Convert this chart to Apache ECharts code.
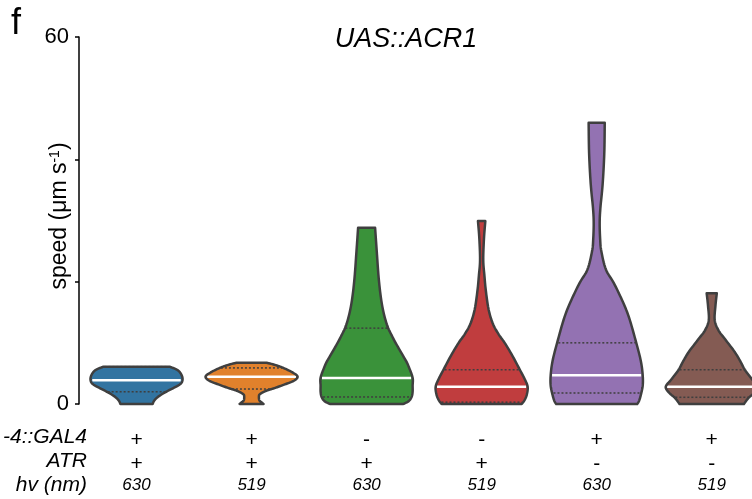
<!DOCTYPE html>
<html>
<head>
<meta charset="utf-8">
<script src="https://cdn.jsdelivr.net/npm/echarts@6/dist/echarts.min.js"></script>
<style>
html,body{margin:0;padding:0;background:#fff;}
#main{width:752px;height:499px;}
</style>
</head>
<body>
<div id="main"></div>
<script>
// ---------------- data ----------------
const categories = ['c1', 'c2', 'c3', 'c4', 'c5', 'c6'];
const rowGal4 = ['+', '+', '-', '-', '+', '+'];
const rowATR = ['+', '+', '+', '+', '-', '-'];
const rowWavelength = ['630', '519', '630', '519', '630', '519'];
const rowNames = ['-4::GAL4', 'ATR', 'hv (nm)'];
const yTicksShown = [0, 60];

// violin profiles (speed level, relative density width), top to bottom
const speed1 = [6.1, 5.6, 5.0, 4.2, 3.5, 3.0, 2.3, 1.6, 1.0, 0.5, 0];
const dens1  = [0.72, 0.88, 0.96, 1.0, 0.98, 0.9, 0.72, 0.55, 0.44, 0.38, 0.35];
const speed2 = [6.75, 6.3, 5.8, 5.2, 4.5, 3.8, 3.2, 2.6, 2.1, 1.6, 1.2, 0.6, 0.25, 0];
const dens2  = [0.33, 0.55, 0.72, 0.88, 1.0, 0.92, 0.72, 0.5, 0.3, 0.18, 0.16, 0.17, 0.22, 0.26];
const speed3 = [28.8, 25, 20, 16, 13, 11, 8.8, 7, 6, 4.3, 3, 2, 1.2, 0.5, 0];
const dens3  = [0.185, 0.22, 0.27, 0.34, 0.44, 0.56, 0.72, 0.86, 0.92, 1.0, 1.0, 1.0, 0.98, 0.92, 0.8];
const speed4 = [29.9, 27, 23.5, 21, 18.6, 15.5, 13.2, 11.5, 10, 8, 5.6, 4, 2.8, 1.5, 0.6, 0];
const dens4  = [0.08, 0.05, 0.035, 0.06, 0.09, 0.15, 0.24, 0.36, 0.5, 0.66, 0.83, 0.94, 1.0, 0.98, 0.93, 0.87];
const speed5 = [46, 41, 36, 32, 29.6, 27, 25, 22, 19.8, 17, 14.2, 10, 7, 4.7, 3, 1.5, 0.5, 0];
const dens5  = [0.175, 0.165, 0.13, 0.08, 0.065, 0.075, 0.1, 0.2, 0.37, 0.55, 0.7, 0.86, 0.96, 1.0, 1.0, 0.96, 0.92, 0.88];
const speed6 = [18.1, 16, 13.7, 12, 10.5, 8.5, 7, 5.6, 4, 2.8, 1.8, 1, 0];
const dens6  = [0.11, 0.08, 0.065, 0.15, 0.3, 0.5, 0.62, 0.72, 0.88, 1.0, 0.92, 0.8, 0.7];

const medians = [3.9, 4.46, 4.25, 2.8, 4.7, 2.8];
const lowerQuartiles = [2.0, 2.45, 1.15, 0.3, 1.8, 1.1];
const upperQuartiles = [6.1, 5.9, 12.4, 5.6, 10.0, 5.6];

// ---------------- styling ----------------
const profiles = [[speed1, dens1], [speed2, dens2], [speed3, dens3], [speed4, dens4], [speed5, dens5], [speed6, dens6]];
const palette = ['#3274a1', '#e1812c', '#3a923a', '#c03d3e', '#9372b2', '#845b53'];
const FONT = '"Liberation Sans", Arial, Helvetica, sans-serif';
const OUTLINE = '#3f3f3f';
// the axis continues past the right edge of the picture (cropped panel)
const X_MIN = -0.5, X_MAX = 5.35;

function catmull(pts, steps) {
  if (pts.length < 3) return pts.slice();
  const out = [];
  for (let i = 0; i < pts.length - 1; i++) {
    const p0 = pts[Math.max(0, i - 1)], p1 = pts[i], p2 = pts[i + 1], p3 = pts[Math.min(pts.length - 1, i + 2)];
    for (let s = 0; s < steps; s++) {
      const t = s / steps, t2 = t * t, t3 = t2 * t;
      const f = (a, b, c, d) => 0.5 * ((2 * b) + (-a + c) * t + (2 * a - 5 * b + 4 * c - d) * t2 + (-a + 3 * b - 3 * c + d) * t3);
      out.push([f(p0[0], p1[0], p2[0], p3[0]), f(p0[1], p1[1], p2[1], p3[1])]);
    }
  }
  out.push(pts[pts.length - 1]);
  return out;
}

function densAt(sp, de, q) {
  for (let k = 0; k < sp.length - 1; k++) {
    const a = sp[k], b = sp[k + 1];
    if (q <= a && q >= b) {
      const t = (a - q) / (a - b || 1);
      return de[k] + (de[k + 1] - de[k]) * t;
    }
  }
  return de[de.length - 1];
}

function renderViolin(params, api) {
  const i = api.value(0);
  const sp = profiles[i][0], de = profiles[i][1];
  const band = api.size([1, 0])[0];
  const H = band * 0.4;
  const cx = api.coord([i, 0])[0];
  const left = sp.map((v, k) => [cx - de[k] * H, api.coord([i, v])[1]]);
  const right = sp.map((v, k) => [cx + de[k] * H, api.coord([i, v])[1]]);
  const l = catmull(left, 8);
  const r = catmull(right, 8).reverse();
  const poly = l.concat(r);
  const children = [{
    type: 'polygon', shape: { points: poly }, style: { fill: palette[i], stroke: null }
  }];
  const qline = (q, style) => {
    const d = densAt(sp, de, q) * H * 0.97;
    const y = api.coord([i, q])[1];
    children.push({ type: 'line', shape: { x1: cx - d, y1: y, x2: cx + d, y2: y }, style: style });
  };
  qline(lowerQuartiles[i], { stroke: OUTLINE, lineWidth: 1.5, lineDash: [2, 2] });
  qline(upperQuartiles[i], { stroke: OUTLINE, lineWidth: 1.5, lineDash: [2, 2] });
  qline(medians[i], { stroke: '#ffffff', lineWidth: 2.5 });
  children.push({
    type: 'polygon', shape: { points: poly },
    style: { fill: null, stroke: OUTLINE, lineWidth: 2.5, lineJoin: 'round' }
  });
  return { type: 'group', children: children };
}

function isInt(v) { return Math.abs(v - Math.round(v)) < 1e-6; }

function rowAxis(rows, margin, size) {
  return {
    type: 'value', min: X_MIN, max: X_MAX, interval: 0.5, gridIndex: 0, position: 'bottom',
    axisLine: { show: false, onZero: false }, axisTick: { show: false }, splitLine: { show: false },
    axisLabel: {
      margin: margin, fontSize: size, color: '#000', fontFamily: FONT,
      showMinLabel: false, showMaxLabel: false, hideOverlap: false,
      fontStyle: rows === rowWavelength ? 'italic' : 'normal',
      formatter: v => (isInt(v) && rows[Math.round(v)] !== undefined ? rows[Math.round(v)] : '')
    }
  };
}

const chart = echarts.init(document.getElementById('main'), null, { renderer: 'canvas' });
chart.setOption({
  animation: false,
  backgroundColor: '#ffffff',
  grid: { left: 79, top: 37, right: 0, bottom: 95, containLabel: false },
  xAxis: [rowAxis(rowGal4, 26, 21), rowAxis(rowATR, 50, 21), rowAxis(rowWavelength, 73, 17)],
  yAxis: {
    type: 'value', min: 0, max: 60, interval: 20, position: 'left',
    axisLine: { show: true, onZero: false, lineStyle: { color: '#000', width: 1.5 } },
    axisTick: { show: true, length: 4, lineStyle: { color: '#000', width: 1.5 } },
    splitLine: { show: false },
    axisLabel: {
      fontSize: 22, color: '#000', fontFamily: FONT, margin: 10,
      formatter: v => (yTicksShown.indexOf(v) >= 0 ? String(v) : '')
    }
  },
  series: [{
    type: 'custom', xAxisIndex: 0, yAxisIndex: 0,
    renderItem: renderViolin,
    encode: { x: 0, y: 1 },
    data: categories.map((c, i) => [i, 0]),
    clip: false
  }],
  graphic: [
    { type: 'text', left: 11, top: 6, style: { text: 'f', fontSize: 36, fontFamily: FONT, fill: '#000' } },
    { type: 'text', x: 406, y: 39, style: { text: 'UAS::ACR1', fontSize: 27, fontStyle: 'italic', fontFamily: FONT, fill: '#000', align: 'center', verticalAlign: 'middle' } },
    {
      type: 'text', x: 60, y: 216, rotation: Math.PI / 2,
      style: {
        text: '{a|speed (μm s}{s|-1}{a|)}', align: 'center', verticalAlign: 'middle',
        rich: {
          a: { fontSize: 23, fill: '#000', fontFamily: FONT },
          s: { fontSize: 14, fill: '#000', fontFamily: FONT, padding: [0, 0, 10, 0] }
        }
      }
    },
    { type: 'text', x: 87, y: 437, style: { text: rowNames[0], fontSize: 21, fontStyle: 'italic', fontFamily: FONT, fill: '#000', align: 'right', verticalAlign: 'middle' } },
    { type: 'text', x: 87, y: 461, style: { text: rowNames[1], fontSize: 21, fontStyle: 'italic', fontFamily: FONT, fill: '#000', align: 'right', verticalAlign: 'middle' } },
    { type: 'text', x: 87, y: 485, style: { text: rowNames[2], fontSize: 21, fontStyle: 'italic', fontFamily: FONT, fill: '#000', align: 'right', verticalAlign: 'middle' } }
  ]
});
</script>
</body>
</html>
